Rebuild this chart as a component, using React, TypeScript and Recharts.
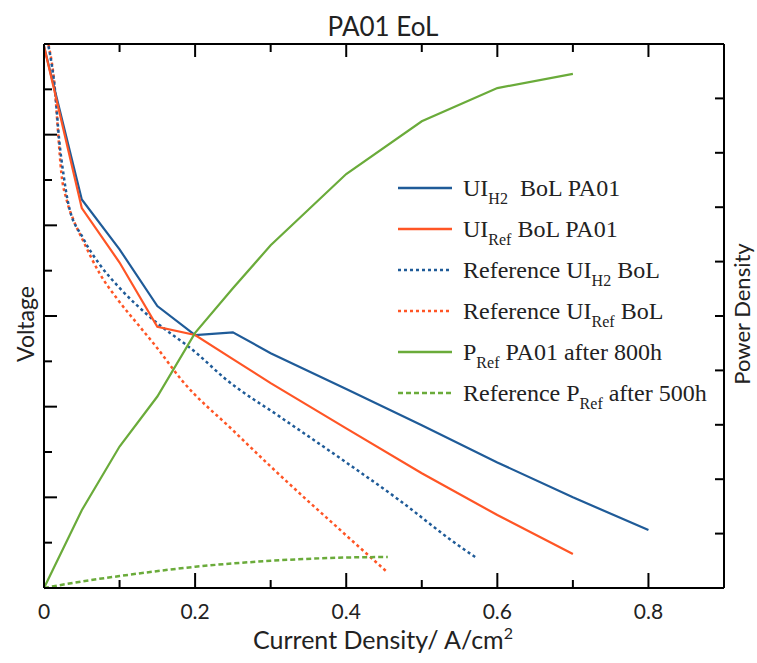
import React from 'react';
import { LineChart, Line, XAxis, YAxis, Legend, ReferenceLine } from 'recharts';

// current density (A/cm2) and voltage
const currentH2 = [0, 0.05, 0.1, 0.15, 0.2, 0.25, 0.3, 0.4, 0.5, 0.6, 0.7, 0.8];
const voltageH2 = [1.195, 0.857, 0.747, 0.622, 0.558, 0.564, 0.518, 0.439, 0.359, 0.277, 0.2, 0.128];

const currentRef = [0, 0.05, 0.1, 0.15, 0.2, 0.25, 0.3, 0.4, 0.5, 0.6, 0.7];
const voltageRef = [1.195, 0.838, 0.718, 0.576, 0.558, 0.505, 0.452, 0.352, 0.253, 0.161, 0.075];

const refH2Current = [0.006, 0.015, 0.02, 0.026, 0.032, 0.052, 0.074, 0.1, 0.14, 0.202, 0.241, 0.312, 0.4, 0.47, 0.5475, 0.571];
const refH2Voltage = [1.195, 1.09, 0.99, 0.91, 0.849, 0.771, 0.713, 0.662, 0.598, 0.518, 0.46, 0.378, 0.277, 0.194, 0.095, 0.068];

const refRefCurrent = [0.006, 0.0145, 0.019, 0.023, 0.03, 0.039, 0.05, 0.074, 0.1, 0.125, 0.15, 0.182, 0.25, 0.3, 0.4, 0.455];
const refRefVoltage = [1.198, 1.099, 0.996, 0.915, 0.856, 0.812, 0.772, 0.693, 0.631, 0.58, 0.529, 0.459, 0.348, 0.268, 0.116, 0.034];

const powerCurrent = [0, 0.05, 0.1, 0.15, 0.2, 0.25, 0.3, 0.4, 0.5, 0.6, 0.7];
const powerPA01 = [0, 0.143, 0.26, 0.352, 0.469, 0.551, 0.63, 0.761, 0.858, 0.919, 0.945];

const refPowerCurrent = [0, 0.05, 0.1, 0.2, 0.3, 0.4, 0.455];
const refPower = [0, 0.012, 0.022, 0.039, 0.05, 0.056, 0.057];

const xTicks = [0, 0.1, 0.2, 0.3, 0.4, 0.5, 0.6, 0.7, 0.8, 0.9];
const xTickLabels = ['0', '', '0.2', '', '0.4', '', '0.6', '', '0.8', ''];
const voltageTicks = [0.1, 0.2, 0.3, 0.4, 0.5, 0.6, 0.7, 0.8, 0.9, 1.0, 1.1];
const powerTicks = [0.1, 0.2, 0.3, 0.4, 0.5, 0.6, 0.7, 0.8, 0.9];

const X_MAX = 0.9;
const V_MAX = 1.2;

// plot box
const W = 757;
const H = 663;
const PLOT_LEFT = 44;
const PLOT_RIGHT = 724;
const PLOT_TOP = 44;
const PLOT_BOTTOM = 588;
const xToPx = (t: number) => PLOT_LEFT + (t / X_MAX) * (PLOT_RIGHT - PLOT_LEFT);

const BLUE = '#1f5b98';
const ORANGE = '#ff5525';
const GREEN = '#6aab3a';
const SANS = 'Lato, "Open Sans", sans-serif';
const SERIF = '"Liberation Serif", "Times New Roman", serif';

const pairs = (xs: number[], ys: number[], key: string) => xs.map((x, k) => ({ i: x, [key]: ys[k] }));

const legendRows = [
  { color: BLUE, dash: undefined, lead: 'UI', sub: 'H2', tail: '\u00a0 BoL PA01' },
  { color: ORANGE, dash: undefined, lead: 'UI', sub: 'Ref', tail: ' BoL PA01' },
  { color: BLUE, dash: '3 3', lead: 'Reference UI', sub: 'H2', tail: ' BoL' },
  { color: ORANGE, dash: '3 3', lead: 'Reference UI', sub: 'Ref', tail: ' BoL' },
  { color: GREEN, dash: undefined, lead: 'P', sub: 'Ref', tail: ' PA01 after 800h' },
  { color: GREEN, dash: '5 3', lead: 'Reference P', sub: 'Ref', tail: ' after 500h' },
];

const renderLegend = () => (
  <div style={{ fontFamily: SERIF, fontSize: 24, color: '#222' }}>
    {legendRows.map((r, k) => (
      <div key={k} style={{ height: 41, display: 'flex', alignItems: 'center', whiteSpace: 'pre' }}>
        <svg width={54} height={6} style={{ marginRight: 11 }}>
          <line x1={0} x2={54} y1={3} y2={3} stroke={r.color} strokeWidth={2.5} strokeDasharray={r.dash} />
        </svg>
        <span style={{ position: 'relative', top: 1 }}>
          {r.lead}
          <span style={{ fontSize: 16, position: 'relative', top: 8 }}>{r.sub}</span>
          {r.tail}
        </span>
      </div>
    ))}
  </div>
);

const bottomTick = (props: any) => {
  const { x, y, index } = props;
  if (!xTickLabels[index]) return <g />;
  return (
    <text x={x} y={y + 31} textAnchor="middle" fontFamily={SANS} fontSize={21} fill="#222">
      {xTickLabels[index]}
    </text>
  );
};

const leftTick = (props: any) => {
  const { x, y, index } = props;
  const major = index % 2 === 1;
  return <line x1={x} x2={x + (major ? 13 : 8)} y1={y} y2={y} stroke="#000" strokeWidth={2} />;
};

const rightTick = (props: any) => {
  const { x, y } = props;
  return <line x1={x} x2={x - 9} y1={y} y2={y} stroke="#000" strokeWidth={2} />;
};

export default function App() {
  return (
    <div style={{ position: 'absolute', left: 0, top: 0, width: W, height: H, background: '#fff' }}>
      <LineChart width={W} height={H} margin={{ top: PLOT_TOP, right: 0, bottom: 0, left: 0 }}>
        <XAxis
          dataKey="i"
          type="number"
          domain={[0, X_MAX]}
          ticks={xTicks}
          interval={0}
          height={H - PLOT_BOTTOM}
          tickSize={0}
          tickMargin={0}
          tickLine={false}
          tick={bottomTick}
          axisLine={{ stroke: '#000', strokeWidth: 2 }}
        />
        <YAxis
          yAxisId="v"
          type="number"
          domain={[0, V_MAX]}
          ticks={voltageTicks}
          interval={0}
          width={PLOT_LEFT}
          tickSize={0}
          tickMargin={0}
          tickLine={false}
          tick={leftTick}
          axisLine={{ stroke: '#000', strokeWidth: 2 }}
        />
        <YAxis
          yAxisId="p"
          orientation="right"
          type="number"
          domain={[0, 1]}
          ticks={powerTicks}
          interval={0}
          width={W - PLOT_RIGHT}
          tickSize={0}
          tickMargin={0}
          tickLine={false}
          tick={rightTick}
          axisLine={{ stroke: '#000', strokeWidth: 2 }}
        />
        <Legend
          layout="vertical"
          align="center"
          verticalAlign="middle"
          content={renderLegend}
          wrapperStyle={{ left: 398, top: 167, width: 350 }}
        />
        <ReferenceLine yAxisId="v" y={V_MAX} stroke="#000" strokeWidth={2} ifOverflow="visible" />
        <Line yAxisId="v" data={pairs(refRefCurrent, refRefVoltage, 'v')} dataKey="v" type="monotone" stroke={ORANGE} strokeWidth={2.5} strokeDasharray="3 3" dot={false} isAnimationActive={false} />
        <Line yAxisId="v" data={pairs(refH2Current, refH2Voltage, 'v')} dataKey="v" type="monotone" stroke={BLUE} strokeWidth={2.5} strokeDasharray="3 3" dot={false} isAnimationActive={false} />
        <Line yAxisId="p" data={pairs(refPowerCurrent, refPower, 'p')} dataKey="p" type="monotone" stroke={GREEN} strokeWidth={2.5} strokeDasharray="5 3" dot={false} isAnimationActive={false} />
        <Line yAxisId="v" data={pairs(currentH2, voltageH2, 'v')} dataKey="v" type="linear" stroke={BLUE} strokeWidth={2.2} dot={false} isAnimationActive={false} />
        <Line yAxisId="v" data={pairs(currentRef, voltageRef, 'v')} dataKey="v" type="linear" stroke={ORANGE} strokeWidth={2.2} dot={false} isAnimationActive={false} />
        <Line yAxisId="p" data={pairs(powerCurrent, powerPA01, 'p')} dataKey="p" type="linear" stroke={GREEN} strokeWidth={2.2} dot={false} isAnimationActive={false} />
      </LineChart>
      <svg width={W} height={H} style={{ position: 'absolute', left: 0, top: 0, pointerEvents: 'none' }}>
        {/* inward x tick marks on bottom and top frame edges */}
        {xTicks.slice(1).map((t, k) => (
          <line key={`b${t}`} x1={xToPx(t)} x2={xToPx(t)} y1={PLOT_BOTTOM} y2={PLOT_BOTTOM - (k % 2 === 0 ? 8 : 15)} stroke="#000" strokeWidth={2} />
        ))}
        {xTicks.slice(1).map((t, k) => (
          <line key={`t${t}`} x1={xToPx(t)} x2={xToPx(t)} y1={PLOT_TOP} y2={PLOT_TOP + (k % 2 === 0 ? 8 : 13)} stroke="#000" strokeWidth={2} />
        ))}
        <text x={383} y={36} textAnchor="middle" fontFamily={SANS} fontSize={26} fill="#222">PA01 EoL</text>
        <text x={383} y={649} textAnchor="middle" fontFamily={SANS} fontSize={25} fill="#222">
          Current Density/ A/cm<tspan fontSize={16} dy={-10}>2</tspan>
        </text>
        <text transform="translate(34 324) rotate(-90)" textAnchor="middle" fontFamily={SANS} fontSize={23} fill="#222">Voltage</text>
        <text transform="translate(750 314) rotate(-90)" textAnchor="middle" fontFamily={SANS} fontSize={22} fill="#222">Power Density</text>
      </svg>
    </div>
  );
}
